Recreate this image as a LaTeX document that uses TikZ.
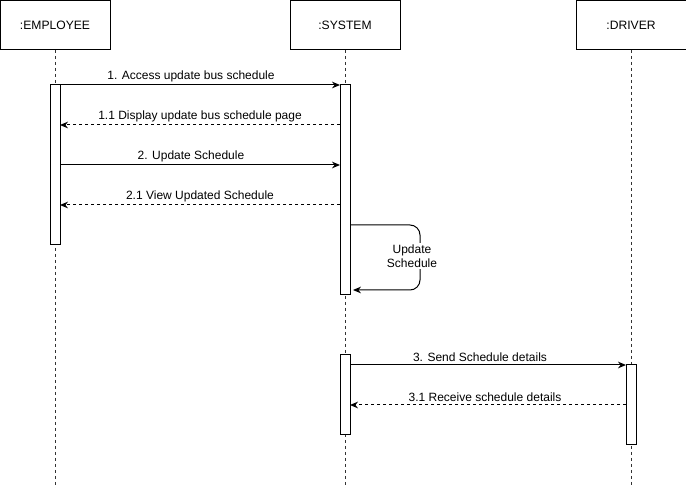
\documentclass[tikz,border=0pt]{standalone}
\usepackage{fontspec}
\setmainfont{Liberation Sans}
\usetikzlibrary{arrows.meta}
\begin{document}
\begin{tikzpicture}[x=0.75pt,y=-0.75pt,
  actor/.style={draw,line width=0.75pt,minimum width=82.5pt,minimum height=36.75pt,inner sep=0pt,font=\fontsize{9.1}{11}\selectfont},
  life/.style={draw=black!80,dashed,dash pattern=on 2.25pt off 2.25pt,line width=0.75pt},
  act/.style={draw,fill=white,line width=0.75pt},
  msg/.style={line width=0.75pt,-{Stealth[length=6pt,width=5pt]}},
  ret/.style={msg,dash pattern=on 2.25pt off 2.25pt},
  lbl/.style={font=\fontsize{9}{10.5}\selectfont,inner sep=1pt}]
\useasboundingbox (0,0) rectangle (686,488);
\fill[white] (0,0) rectangle (686,488);

% actors
\node[actor] (emp) at (55,25) {:EMPLOYEE};
\node[actor] (sys) at (345,25) {:SYSTEM};
\node[actor] (drv) at (631,25) {:DRIVER};

% lifelines
\coordinate (empEnd) at (55,488);
\coordinate (sysEnd) at (345,488);
\coordinate (drvEnd) at (631,488);
\draw[life] (emp.south) -- (empEnd);
\draw[life] (sys.south) -- (sysEnd);
\draw[life] (drv.south) -- (drvEnd);

% activation bars
\draw[act] (50,85) rectangle (60,245);
\draw[act] (340,85) rectangle (350,295);
\draw[act] (340,355) rectangle (350,435);
\draw[act] (626,365) rectangle (636,445);

% message end points on the activation bars
\coordinate (e1) at (60,85);   \coordinate (s1) at (340,85);
\coordinate (e2) at (60,125);  \coordinate (s2) at (340,125);
\coordinate (e3) at (60,165);  \coordinate (s3) at (340,165);
\coordinate (e4) at (60,205);  \coordinate (s4) at (340,205);
\coordinate (s5) at (350,225); \coordinate (s6) at (353,290);
\coordinate (s7) at (350,365); \coordinate (d7) at (626,365);
\coordinate (s8) at (350,405); \coordinate (d8) at (626,405);

% messages
\draw[msg] (e1) -- node[lbl,above=1pt,xshift=-6.75pt] {1. Access update bus schedule} (s1);
\draw[ret] (s2) -- node[lbl,above=1pt] {1.1 Display update bus schedule page} (e2);
\draw[msg] (e3) -- node[lbl,above=1pt,xshift=-6.75pt] {2. Update Schedule} (s3);
\draw[ret] (s4) -- node[lbl,above=1pt] {2.1 View Updated Schedule} (e4);
\draw[msg,rounded corners=7.5pt] (s5) -- (420,225) -- (420,290) -- (s6);
\node[lbl,fill=white,align=center] (selfl) at (412,256) {Update\\Schedule};
\draw[msg] (s7) -- node[lbl,above=1pt,xshift=-6pt] {3. Send Schedule details} (d7);
\draw[ret] (d8) -- node[lbl,above=1pt,xshift=-2.25pt] {3.1 Receive schedule details} (s8);
\end{tikzpicture}
\end{document}
